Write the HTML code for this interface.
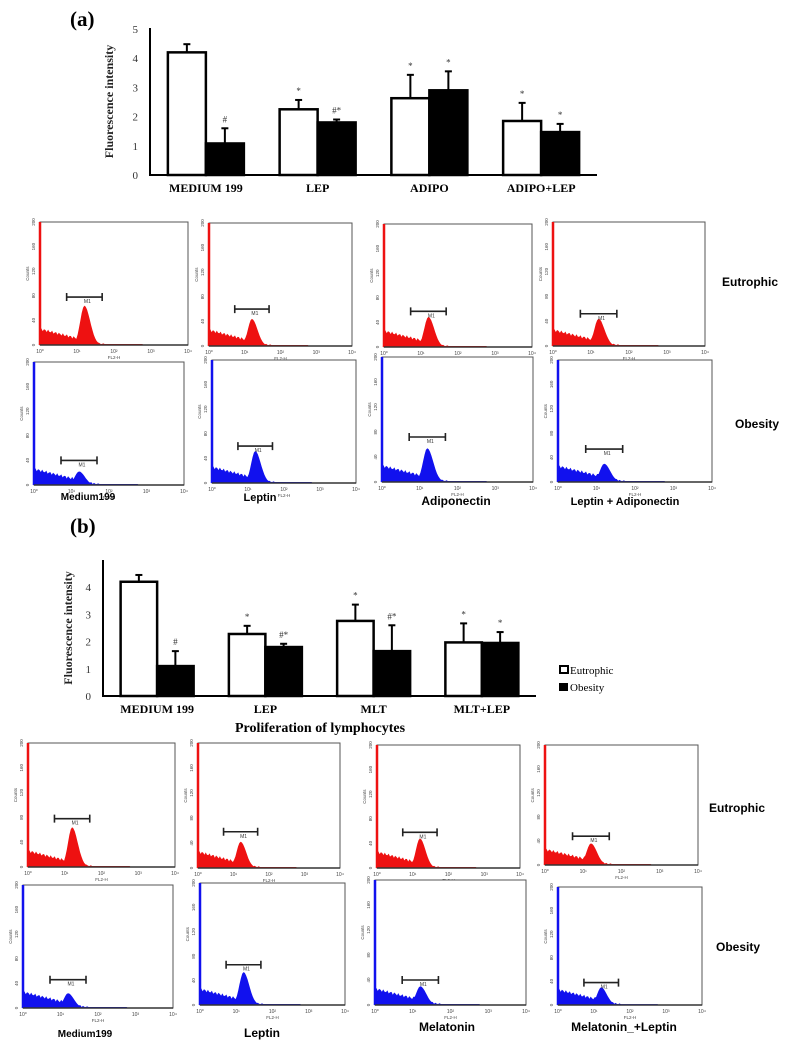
<!DOCTYPE html>
<html><head><meta charset="utf-8">
<style>
html,body{margin:0;padding:0;background:#fff;}
svg{display:block;}
.serif{font-family:"Liberation Serif",serif;}
.sans{font-family:"Liberation Sans","DejaVu Sans",sans-serif;}
</style></head>
<body>
<svg id="fig" width="798" height="1044" viewBox="0 0 798 1044" xmlns="http://www.w3.org/2000/svg">
<text x="70" y="26" class="serif" font-size="21" font-weight="bold">(a)</text>
<text x="70" y="533" class="serif" font-size="21" font-weight="bold">(b)</text>
<text x="320" y="732" class="serif" font-size="14" font-weight="bold" text-anchor="middle">Proliferation of lymphocytes</text>
<g>
<rect x="560" y="666" width="8" height="7" fill="#fff" stroke="#000" stroke-width="2"/>
<text x="570" y="674" class="serif" font-size="11">Eutrophic</text>
<rect x="559" y="683" width="9" height="8" fill="#000"/>
<text x="570" y="691" class="serif" font-size="11">Obesity</text>
</g>
<g id="chartA"></g>
<g id="chartB"></g>
<g id="hists"></g>
<g class="sans" font-weight="bold">
<text x="722" y="286" font-size="12">Eutrophic</text>
<text x="735" y="428" font-size="12">Obesity</text>
<text x="709" y="812" font-size="12">Eutrophic</text>
<text x="716" y="951" font-size="12">Obesity</text>
<text x="88" y="500" font-size="10" text-anchor="middle">Medium199</text>
<text x="260" y="501" font-size="11" text-anchor="middle">Leptin</text>
<text x="456" y="505" font-size="12" text-anchor="middle">Adiponectin</text>
<text x="625" y="505" font-size="11" text-anchor="middle">Leptin + Adiponectin</text>
<text x="85" y="1037" font-size="10" text-anchor="middle">Medium199</text>
<text x="262" y="1037" font-size="12" text-anchor="middle">Leptin</text>
<text x="447" y="1031" font-size="12" text-anchor="middle">Melatonin</text>
<text x="624" y="1031" font-size="12" text-anchor="middle">Melatonin_+Leptin</text>
</g>
</svg>
<script>
const NS="http://www.w3.org/2000/svg";
// Chart (a) data
const catsA=["MEDIUM 199","LEP","ADIPO","ADIPO+LEP"];
const eutA=[4.2,2.25,2.63,1.85];
const eutErrA=[0.28,0.32,0.8,0.62];
const obeA=[1.08,1.8,2.9,1.47];
const obeErrA=[0.52,0.1,0.65,0.28];
const sigEA=["","*","*","*"];
const sigOA=["#","#*","*","*"];
const ticksA=[0,1,2,3,4,5];
// Chart (b) data
const catsB=["MEDIUM 199","LEP","MLT","MLT+LEP"];
const eutB=[4.2,2.28,2.76,1.97];
const eutErrB=[0.25,0.3,0.6,0.7];
const obeB=[1.1,1.8,1.65,1.95];
const obeErrB=[0.55,0.12,0.95,0.4];
const sigEB=["","*","*","*"];
const sigOB=["#","#*","#*","*"];
const ticksB=[0,1,2,3,4];
// Histogram peak heights (fraction of 200 counts) and M1 gate heights
const peaksAE=[0.32,0.22,0.245,0.22];
const gatesAE=[0.39,0.30,0.29,0.26];
const peaksAO=[0.11,0.26,0.27,0.15];
const gatesAO=[0.20,0.30,0.36,0.27];
const peaksBE=[0.32,0.21,0.24,0.18];
const gatesBE=[0.39,0.29,0.29,0.24];
const peaksBO=[0.12,0.27,0.15,0.15];
const gatesBO=[0.23,0.33,0.20,0.19];

function mk(tag,attrs,parent){const e=document.createElementNS(NS,tag);for(const k in attrs)e.setAttribute(k,attrs[k]);parent.appendChild(e);return e;}

function barChart(gid,cfg){
  const g=document.getElementById(gid);
  const y=v=>cfg.base-(v*cfg.unit);
  const gw=(cfg.x1-cfg.x0)/cfg.cats.length;
  const xc=i=>cfg.x0+(i+0.5)*gw;
  let a=mk('line',{x1:cfg.x0,y1:cfg.top,x2:cfg.x0,y2:cfg.base,stroke:'#000','stroke-width':2},g);
  
  
  a=mk('line',{x1:cfg.x0-1,y1:cfg.base,x2:cfg.x1,y2:cfg.base,stroke:'#000','stroke-width':2},g);
  
  
  cfg.ticks.forEach(t=>{
    const tx=mk('text',{x:cfg.x0-12,y:y(t)+4,'font-size':11,'text-anchor':'end',class:'serif',fill:'#333'},g);
    tx.textContent=t;
    
    
  });
  const tt=mk('text',{x:0,y:0,'font-size':12,'font-weight':'bold',class:'serif','text-anchor':'middle',fill:'#222',transform:`translate(${cfg.titleX},${(cfg.top+cfg.base)/2}) rotate(-90)`},g);
  tt.textContent="Fluorescence intensity";
  
  
  const bw=cfg.bw;
  cfg.cats.forEach((c,i)=>{
    const cx=xc(i);
    const series=[[cfg.eut[i],cfg.eutErr[i],'#fff',cx-bw,cfg.sigE[i],'bar-eutrophic'],[cfg.obe[i],cfg.obeErr[i],'#000',cx,cfg.sigO[i],'bar-obesity']];
    series.forEach(s=>{
      const [v,e,fill,bx,sig,nm]=s;
      const r=mk('rect',{x:bx,y:y(v),width:bw,height:cfg.base-y(v),fill:fill,stroke:'#000','stroke-width':2.5},g);
      
      
      const mx=bx+bw/2;
      const l=mk('line',{x1:mx,y1:y(v),x2:mx,y2:y(v+e),stroke:'#000','stroke-width':2},g);
      
      
      const c2=mk('line',{x1:mx-3.5,y1:y(v+e),x2:mx+3.5,y2:y(v+e),stroke:'#000','stroke-width':2},g);
      
      
      if(sig){const st=mk('text',{x:mx,y:y(v+e)-6,'font-size':9,'text-anchor':'middle',class:'serif',fill:'#333'},g);
        st.textContent=sig;
        
        }
    });
    const cl=mk('text',{x:cx,y:cfg.base+cfg.labOff,'font-size':12,'font-weight':'bold','text-anchor':'middle',class:'serif'},g);
    cl.textContent=c;
    
    
  });
}
barChart('chartA',{cats:catsA,eut:eutA,eutErr:eutErrA,obe:obeA,obeErr:obeErrA,sigE:sigEA,sigO:sigOA,ticks:ticksA,x0:150,x1:597,base:175,top:28,unit:29.2,bw:38,titleX:113,labOff:17});
barChart('chartB',{cats:catsB,eut:eutB,eutErr:eutErrB,obe:obeB,obeErr:obeErrB,sigE:sigEB,sigO:sigOB,ticks:ticksB,x0:103,x1:536,base:696,top:560,unit:27.2,bw:36.5,titleX:72,labOff:17});

const boxesAE=[[40,222,188,345],[209,223,352,346],[384,224,532,347],[553,222,705,346]];
const boxesAO=[[34,362,184,485],[212,360,356,483],[382,357,533,482],[558,360,712,482]];
const boxesBE=[[28,743,175,867],[198,743,340,868],[377,745,520,868],[545,745,698,865]];
const boxesBO=[[23,885,173,1008],[200,883,345,1005],[375,880,526,1005],[558,887,702,1005]];
const hg=document.getElementById('hists');
function hist(b,peak,gate,color,name){
  const [x0,y0,x1,y1]=b,w=x1-x0,h=y1-y0;
  const g=mk('g',{},hg);
  
  
  const fr=mk('rect',{x:x0,y:y0,width:w,height:h,fill:'#fff',stroke:'#555','stroke-width':1},g);
  
  
  let d=`M${x0},${y1}`;
  const N=110;
  for(let k=0;k<=N;k++){
    const f=k/N;
    let v=0.13-0.3*f+0.012*Math.sin(k*2.3);
    v=Math.max(v,0.05*(1-f*2.2));
    const sd=f<0.3?0.04:0.055;
    const pk=peak*Math.exp(-Math.pow((f-0.3)/sd,2));
    v=Math.max(v,pk);
    if(f>0.36&&f<0.7)v=Math.max(v,0.008);
    v=Math.max(0,v);
    d+=` L${(x0+f*w).toFixed(1)},${(y1-v*h).toFixed(1)}`;
  }
  d+=` L${x1},${y1} Z`;
  const p=mk('path',{d:d,fill:color},g);
  
  
  const ax=mk('line',{x1:x0,y1:y0,x2:x0,y2:y1,stroke:color,'stroke-width':2.5},g);
  
  
  const bx=mk('line',{x1:x0,y1:y1,x2:x1,y2:y1,stroke:'#333','stroke-width':1.5},g);
  
  
  const gy=y1-gate*h, ga=x0+0.18*w, gb=x0+0.42*w;
  const gl=mk('path',{d:`M${ga},${gy}H${gb}M${ga},${gy-4}V${gy+4}M${gb},${gy-4}V${gy+4}`,stroke:'#222','stroke-width':1.6,fill:'none'},g);
  
  
  const mt=mk('text',{x:(ga+gb)/2+3,y:gy+6,'font-size':5,'text-anchor':'middle',class:'sans',fill:'#333'},g);
  mt.textContent="M1";
  
  
  for(let k=0;k<=4;k++){
    const t=mk('text',{x:x0+k*w/4,y:y1+8,'font-size':5,'text-anchor':'middle',class:'sans',fill:'#444'},g);
    t.textContent="10"+["⁰","¹","²","³","⁴"][k];
    
    
  }
  const fl=mk('text',{x:x0+w/2,y:y1+14,'font-size':4.5,'text-anchor':'middle',class:'sans',fill:'#444'},g);
  fl.textContent="FL2-H";
  
  
  [0,40,80,120,160,200].forEach((c,k)=>{
    const yy=y1-k*h/5;
    const t=mk('text',{x:0,y:0,'font-size':4.5,'text-anchor':'middle',class:'sans',fill:'#444',transform:`translate(${x0-5},${yy}) rotate(-90)`},g);
    t.textContent=c;
    
    
  });
  const ct=mk('text',{x:0,y:0,'font-size':4.5,'text-anchor':'middle',class:'sans',fill:'#444',transform:`translate(${x0-11},${y0+h*0.42}) rotate(-90)`},g);
  ct.textContent="Counts";
  
  
}
boxesAE.forEach((b,i)=>hist(b,peaksAE[i],gatesAE[i],'#ee1111','histogram-a-eutrophic'));
boxesAO.forEach((b,i)=>hist(b,peaksAO[i],gatesAO[i],'#1111ee','histogram-a-obesity'));
boxesBE.forEach((b,i)=>hist(b,peaksBE[i],gatesBE[i],'#ee1111','histogram-b-eutrophic'));
boxesBO.forEach((b,i)=>hist(b,peaksBO[i],gatesBO[i],'#1111ee','histogram-b-obesity'));
</script>
</body></html>
